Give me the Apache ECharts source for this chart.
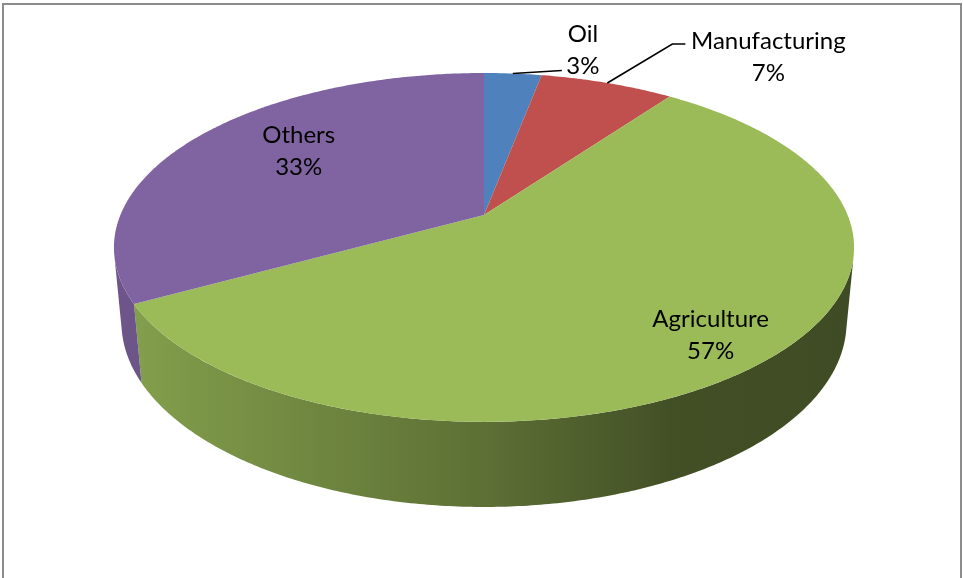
<!DOCTYPE html>
<html>
<head>
<meta charset="utf-8">
<script src="https://cdn.jsdelivr.net/npm/echarts@6/dist/echarts.min.js"></script>
<style>
  html, body { margin: 0; padding: 0; background: #ffffff; }
  #chart { width: 963px; height: 578px; }
</style>
</head>
<body>
<div id="chart"></div>
<script>
// Sector shares (percent)
const categories = ['Oil', 'Manufacturing', 'Agriculture', 'Others'];
const shares = [3, 7, 57, 33];
const sliceColors = ['#4f81bd', '#c0504d', '#9bbb59', '#8064a2'];

// Cumulative start of each slice, in percent
const starts = [];
shares.reduce((acc, v) => { starts.push(acc); return acc + v; }, 0);
const total = shares.reduce((a, b) => a + b, 0);

// Perspective disc geometry: top face scale (A, B), depth foreshortening (persp),
// wall height in pixels (wall) and the extra recession of the base ring (recede)
const DISC = { cx: 484, cy: 215, A: 363.6, B: 168.4, persp: 0.186, wall: 75.1, recede: 0.02 };

// Label placement relative to each slice (radial factor + nudge, optional leader)
const labelLayout = [
  { r: 1.0, dx: 70, dy: -23, leader: [[0, 0], [49, -3]] },
  { r: 1.0, dx: 161, dy: -26, leader: [[0, 0], [65, -39], [78, -39]] },
  { r: 0.82, dx: 4, dy: 3 },
  { r: 0.62, dx: -2, dy: -14 }
];

function topPt(theta, r) {
  const u = r * Math.sin(theta), v = r * Math.cos(theta), w = 1 + DISC.persp * v;
  return [DISC.cx + DISC.A * u / w, DISC.cy - DISC.B * v / w];
}
function basePt(theta) {
  const u = Math.sin(theta), v = Math.cos(theta), w = 1 + DISC.persp * v + DISC.recede;
  return [DISC.cx + DISC.A * u / w, DISC.cy - (DISC.B * v - DISC.wall) / w];
}
function toAngle(pct) { return pct / total * Math.PI * 2; }

// Signed area of a thin strip of wall; it flips sign where the wall turns away
function stripArea(t, dt) {
  const q = [topPt(t, 1), topPt(t + dt, 1), basePt(t + dt), basePt(t)];
  let s = 0;
  for (let k = 0; k < 4; k++) {
    const a = q[k], b = q[(k + 1) % 4];
    s += a[0] * b[1] - b[0] * a[1];
  }
  return s;
}
function silhouette(dir) {
  const dt = 0.001 * dir;
  const s0 = Math.sign(stripArea(Math.PI, dt));
  let t = Math.PI;
  while (Math.abs(t - Math.PI) < Math.PI * 0.95) {
    if (Math.sign(stripArea(t, dt)) !== s0) return t;
    t += dt;
  }
  return t;
}
const wallFrom = silhouette(-1), wallTo = silhouette(1);

function shade(hex, f) {
  const n = parseInt(hex.slice(1), 16);
  const r = Math.round(((n >> 16) & 255) * f);
  const g = Math.round(((n >> 8) & 255) * f);
  const b = Math.round((n & 255) * f);
  return 'rgb(' + r + ',' + g + ',' + b + ')';
}

const seriesData = shares.map((v, i) => ({ name: categories[i], value: [v, starts[i]] }));

function renderSide(params, api) {
  const i = params.dataIndex;
  const a0 = toAngle(api.value(1));
  const a1 = toAngle(api.value(1) + api.value(0));
  const lo = Math.max(a0, wallFrom), hi = Math.min(a1, wallTo);
  if (hi <= lo) return null;
  const steps = Math.max(4, Math.ceil((hi - lo) / 0.01));
  const pts = [];
  for (let k = 0; k <= steps; k++) pts.push(topPt(lo + (hi - lo) * k / steps, 1));
  for (let k = steps; k >= 0; k--) pts.push(basePt(lo + (hi - lo) * k / steps));
  const base = sliceColors[i];
  const grad = new echarts.graphic.LinearGradient(DISC.cx - 371, 0, DISC.cx + 371, 0, [
    { offset: 0, color: shade(base, 0.86) },
    { offset: 0.5, color: shade(base, 0.6) },
    { offset: 0.75, color: shade(base, 0.43) },
    { offset: 1, color: shade(base, 0.4) }
  ], true);
  return { type: 'polygon', shape: { points: pts }, style: { fill: grad } };
}

function renderTop(params, api) {
  const i = params.dataIndex;
  const a0 = toAngle(api.value(1));
  const a1 = toAngle(api.value(1) + api.value(0));
  const steps = Math.max(4, Math.ceil((a1 - a0) / 0.01));
  const pts = [[DISC.cx, DISC.cy]];
  for (let k = 0; k <= steps; k++) pts.push(topPt(a0 + (a1 - a0) * k / steps, 1));
  return { type: 'polygon', shape: { points: pts }, style: { fill: sliceColors[i] } };
}

function renderLabel(params, api) {
  const i = params.dataIndex;
  const v = api.value(0);
  const mid = toAngle(api.value(1) + v / 2);
  const L = labelLayout[i];
  const anchor = topPt(mid, L.r);
  const children = [];
  if (L.leader) {
    children.push({
      type: 'polyline',
      shape: { points: L.leader.map(p => [anchor[0] + p[0], anchor[1] + p[1]]) },
      style: { stroke: '#000000', lineWidth: 1.6, fill: null }
    });
  }
  children.push({
    type: 'text',
    x: anchor[0] + L.dx,
    y: anchor[1] + L.dy,
    style: {
      text: categories[i] + '\n' + Math.round(v / total * 100) + '%',
      fill: '#000000',
      fontFamily: 'Lato',
      fontSize: 24,
      lineHeight: 32,
      align: 'center',
      verticalAlign: 'middle'
    }
  });
  return { type: 'group', children: children };
}

const chart = echarts.init(document.getElementById('chart'), null, { renderer: 'canvas' });
chart.setOption({
  animation: false,
  backgroundColor: '#ffffff',
  graphic: [{
    type: 'rect',
    shape: { x: 3, y: 4, width: 958, height: 620 },
    style: { fill: null, stroke: '#8c8c8c', lineWidth: 2 },
    silent: true,
    z: 0
  }],
  series: [
    { type: 'custom', coordinateSystem: 'none', silent: true, z: 1, renderItem: renderSide, data: seriesData },
    { type: 'custom', coordinateSystem: 'none', silent: true, z: 2, renderItem: renderTop, data: seriesData },
    { type: 'custom', coordinateSystem: 'none', silent: true, z: 3, renderItem: renderLabel, data: seriesData }
  ]
});
</script>
</body>
</html>
